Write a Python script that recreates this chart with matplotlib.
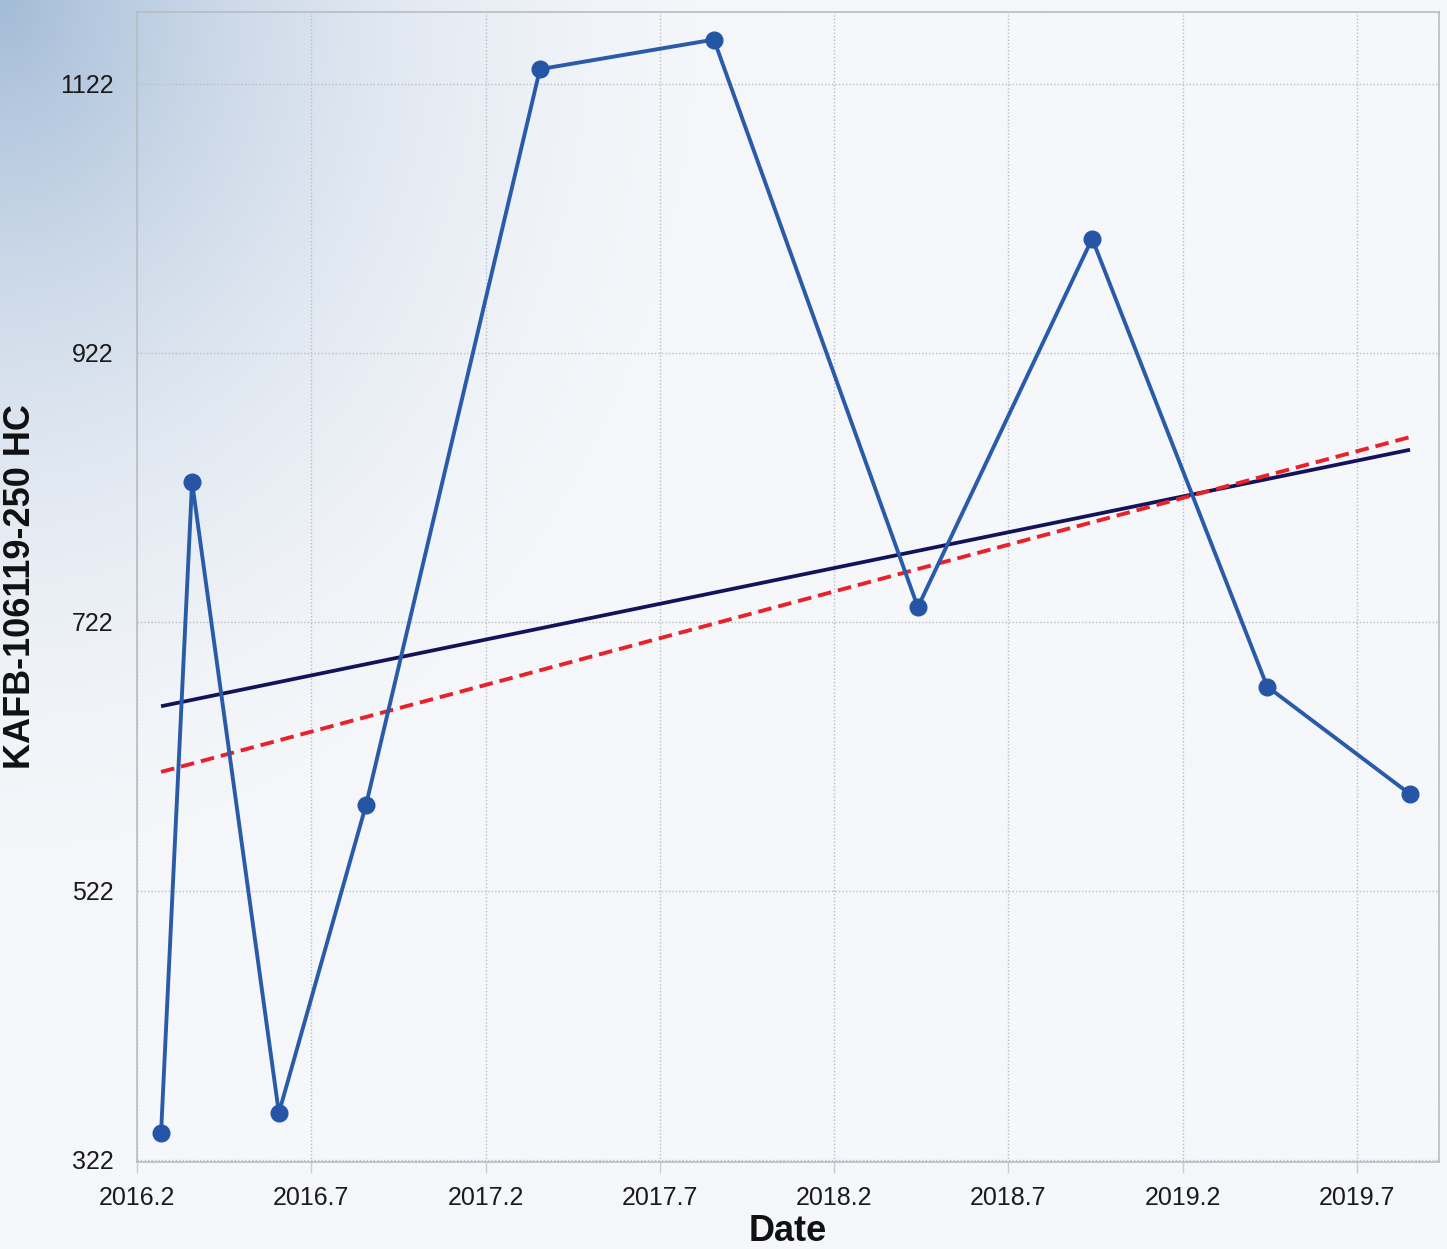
import numpy as np
import matplotlib
matplotlib.use("Agg")
import matplotlib.pyplot as plt

# ---- data ----
dates = [2016.269, 2016.358, 2016.607, 2016.857, 2017.356, 2017.855,
         2018.440, 2018.940, 2019.442, 2019.852]
values = [342, 826, 357, 586, 1133, 1155, 733, 1007, 674, 594]
sen_trend = [610.5, 859.5]          # dashed trend at first/last date
x_ticks = [2016.2, 2016.7, 2017.2, 2017.7, 2018.2, 2018.7, 2019.2, 2019.7]
y_ticks = [322, 522, 722, 922, 1122]
x_label = "Date"
y_label = "KAFB-106119-250 HC"

plt.rcParams['font.family'] = ['Liberation Sans', 'DejaVu Sans']

W, H = 1447, 1249
fig = plt.figure(figsize=(W / 100, H / 100), dpi=100)

# background gradient (top-left bluish)
bg = fig.add_axes([0, 0, 1, 1], zorder=-10)
yy, xx = np.mgrid[0:H:2, 0:W:2]
d = np.sqrt((xx / 780.0) ** 2 + (yy / 950.0) ** 2)
t = np.clip(1 - d, 0, 1) ** 2.0
base = np.array([0xf5, 0xf7, 0xfa]) / 255.0
corner = np.array([0xa3, 0xbb, 0xd7]) / 255.0
img = base[None, None, :] * (1 - t[..., None]) + corner[None, None, :] * t[..., None]
bg.imshow(img, aspect='auto', extent=[0, 1, 0, 1], interpolation='bilinear')
bg.axis('off')

ax = fig.add_axes([137 / W, 1 - 1162 / H, (1439 - 137) / W, (1162 - 12) / H])
ax.set_facecolor('none')

ax.set_xlim(2016.2, 2019.935)
ax.set_ylim(320.5, 1175.5)

# OLS trend computed from data
xarr = np.array(dates)
coef = np.polyfit(xarr, np.array(values), 1)
xe = np.array([dates[0], dates[-1]])
ax.plot(xe, np.polyval(coef, xe), color='#13135a', lw=2.7, zorder=3, solid_capstyle='butt')
ax.plot(xe, sen_trend, color='#e8212b', lw=2.8, ls=(0, (3.5, 1.8)), zorder=4)

ax.plot(dates, values, color='#2a5ba8', lw=2.8, marker='o', markersize=12,
        markerfacecolor='#2556a6', markeredgecolor='#2556a6', zorder=5)

ax.set_xticks(x_ticks)
ax.set_xticklabels([f"{v:.1f}" for v in x_ticks])
ax.set_yticks(y_ticks)
ax.set_yticklabels([str(v) for v in y_ticks])
ax.grid(True, color='#b9bec6', ls=(0, (1, 1.5)), lw=1.0)
ax.tick_params(axis='x', length=8, color='#c8ccd2', width=1, pad=9, labelsize=18, labelcolor='#1a1a1a')
ax.tick_params(axis='y', length=0, pad=17, labelsize=18, labelcolor='#1a1a1a')

for s in ax.spines.values():
    s.set_color('#b8bcc2')
    s.set_linewidth(1.2)

ax.set_xlabel(x_label, fontsize=26, fontweight='bold', labelpad=3.5, color='#111111')
ax.set_ylabel(y_label, fontsize=26, fontweight='bold', labelpad=16, color='#111111')

fig.savefig("out.png", dpi=100)
